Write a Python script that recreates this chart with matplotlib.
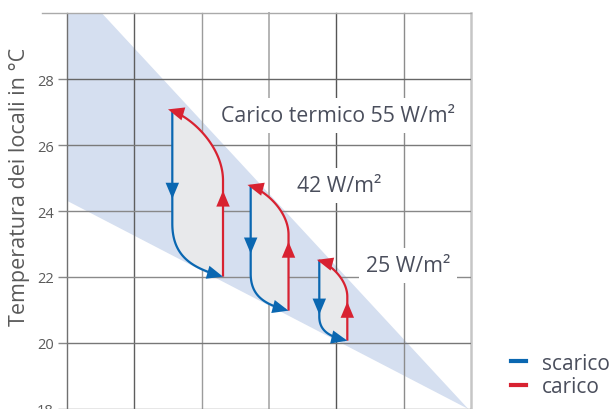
import numpy as np
import matplotlib
matplotlib.use("Agg")
import matplotlib.pyplot as plt
from matplotlib.lines import Line2D

# ---------------- data ----------------
y_ticks = [18, 20, 22, 24, 26, 28]
x_grid = [0, 1, 2, 3, 4, 5, 6]

# comfort band (lower edge start, upper-left corner, upper edge start, apex)
band_x = [0.0, 0.0, 0.515, 5.96]
band_t = [24.31, 30.0, 30.0, 18.0]

loop_labels = ["Carico termico 55 W/m²", "42 W/m²", "25 W/m²"]
loop_x_left = [1.564, 2.728, 3.747]
loop_x_right = [2.317, 3.290, 4.163]
loop_t_top = [27.08, 24.79, 22.52]
loop_t_bottom = [22.01, 20.98, 20.07]
loop_t_knee_blue = [23.62, 22.10, 20.80]
loop_t_knee_red = [24.92, 23.28, 21.40]
arrow_t_blue = [24.37, 22.71, 20.86]
arrow_t_red = [24.62, 23.07, 21.25]

legend_labels = ["scarico", "carico"]

# ---------------- style ----------------
BLUE = "#0a67b1"
RED = "#d82231"
BAND = "#d5dff0"
FILL = "#e8e9eb"
TXT = "#4a4e5c"
TICK = "#5a5a5a"

plt.rcParams["font.family"] = ["Open Sans", "DejaVu Sans"]

W, H = 616, 410
fig = plt.figure(figsize=(W / 100, H / 100), dpi=100)
ylo, yhi = 17.8, 30.0
px_per_deg = 33.0
ax_h = (yhi - ylo) * px_per_deg
ax = fig.add_axes([67 / W, (H - 14 - ax_h) / H, 404 / W, ax_h / H])
ax.set_xlim(0, 6)
ax.set_ylim(ylo, yhi)

# band
ax.fill(band_x, band_t, color=BAND, lw=0, zorder=1)

# grid
vcolors = ["#707070", "#5e5e5e", "#9c9c9c", "#b4b4b4", "#555555", "#8c8c8c", "#c6c6c6"]
vwidths = [1.0, 1.0, 1.0, 1.4, 1.0, 1.0, 1.8]
for xv, c, lw in zip(x_grid, vcolors, vwidths):
    ax.axvline(xv, color=c, lw=lw, zorder=2, clip_on=False)
hcolors = ["#888888", "#777777", "#8a8a8a", "#888888", "#7a7a7a", "#666666"]
for yv, c in zip(y_ticks, hcolors):
    ax.axhline(yv, color=c, lw=1.0, zorder=2)
ax.plot([-0.37, 6], [30, 30], color="#aaaaaa", lw=1.0, clip_on=False, zorder=2)

for s in ax.spines.values():
    s.set_visible(False)
ax.set_xticks([])
ax.set_yticks(y_ticks)
ax.set_yticklabels([str(v) for v in y_ticks])
ax.tick_params(axis="y", length=6.5, width=1.0, color="#888888",
               labelsize=10.5, labelcolor=TICK, pad=3)

fig.text(20 / W, (H - 187) / H, "Temperatura dei locali in °C", rotation=90,
         ha="center", va="center", fontsize=15.5, color=TICK)

# labels with white boxes
label_pos = [(2.287, 26.90), (3.415, 24.78), (4.44, 22.35)]
for lab, (lx, lt) in zip(loop_labels, label_pos):
    ax.text(lx, lt, lab, ha="left", va="center", fontsize=15.3, color=TXT, zorder=3,
            bbox=dict(boxstyle="square,pad=0.32", fc="white", ec="none"))


def bezier(p0, p1, p2, p3, n=80):
    t = np.linspace(0, 1, n)[:, None]
    return ((1 - t) ** 3) * p0 + 3 * ((1 - t) ** 2) * t * p1 + 3 * (1 - t) * (t ** 2) * p2 + (t ** 3) * p3


def head(tip, frm, color):
    ax.annotate("", xy=tip, xytext=frm,
                arrowprops=dict(arrowstyle="-|>,head_length=1.05,head_width=0.44",
                                color=color, lw=0, shrinkA=0, shrinkB=0,
                                mutation_scale=11),
                zorder=6)


for xl, xr, tt, tb, kb, kr, ab, ar in zip(loop_x_left, loop_x_right, loop_t_top,
                                          loop_t_bottom, loop_t_knee_blue,
                                          loop_t_knee_red, arrow_t_blue, arrow_t_red):
    w = xr - xl
    # blue (scarico)
    b0 = np.array([xl, kb]); b3 = np.array([xr, tb])
    b1 = np.array([xl, kb + 0.66 * (tb - kb)])
    b2 = np.array([xl + 0.45 * w, kb + 0.85 * (tb - kb)])
    bc = bezier(b0, b1, b2, b3)
    blue = np.vstack([[xl, tt], bc])
    # red (carico)
    xe = xl - 0.085 * w
    r0 = np.array([xr, kr]); r3 = np.array([xe, tt])
    r1 = np.array([xr, kr + 0.47 * (tt - kr)])
    r2 = np.array([xr - 0.56 * (xr - xe), kr + 0.9 * (tt - kr)])
    rc = bezier(r0, r1, r2, r3)
    red = np.vstack([[xr, tb], rc])

    poly = np.vstack([blue, red])
    ax.fill(poly[:, 0], poly[:, 1], color=FILL, lw=0, zorder=4)
    ax.plot(blue[:-4, 0], blue[:-4, 1], color=BLUE, lw=1.6, zorder=5, solid_capstyle="butt")
    ax.plot(red[:-4, 0], red[:-4, 1], color=RED, lw=1.6, zorder=5, solid_capstyle="butt")

    head(b3, b3 - 0.05 * (b3 - b2), BLUE)
    head(r3, r3 - 0.05 * (r3 - r2), RED)
    head((xl, ab), (xl, ab + 0.05), BLUE)
    head((xr, ar), (xr, ar - 0.05), RED)

handles = [Line2D([], [], color=BLUE, lw=3.0), Line2D([], [], color=RED, lw=3.0)]
leg = fig.legend(handles, legend_labels, loc="center left",
                 bbox_to_anchor=(511 / W, (H - 376) / H), frameon=False,
                 fontsize=15, handlelength=0.72, handletextpad=0.75,
                 labelspacing=0.12, borderaxespad=0, borderpad=0)
for t in leg.get_texts():
    t.set_color(TXT)

fig.savefig("out.png", dpi=100)
